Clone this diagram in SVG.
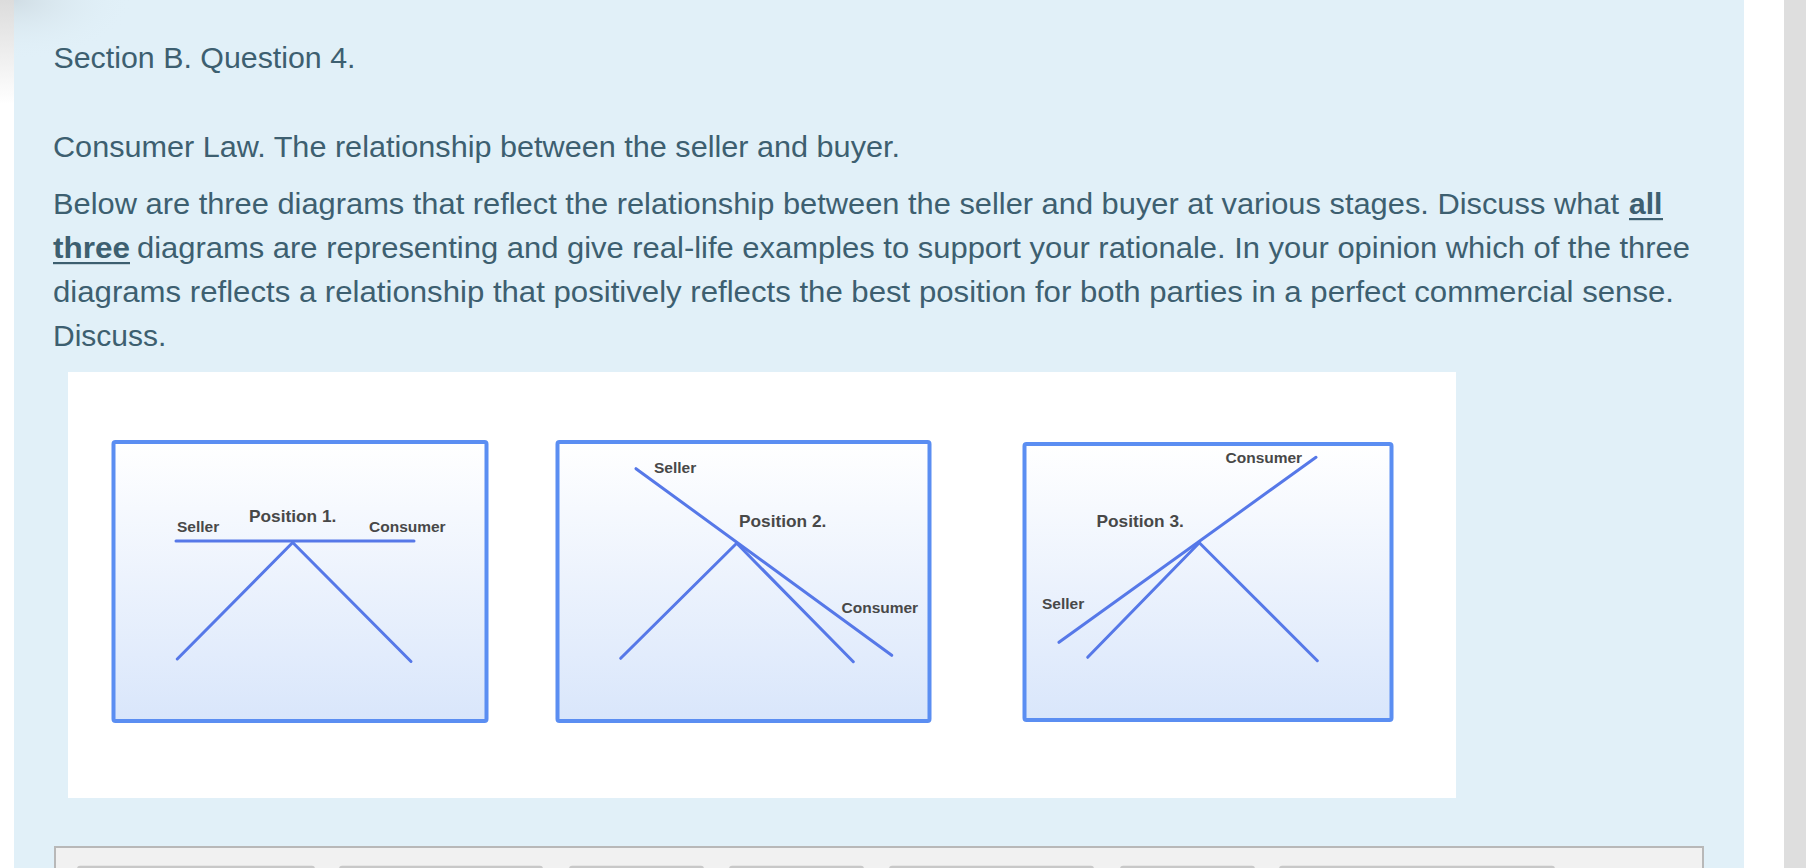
<svg xmlns="http://www.w3.org/2000/svg" width="1806" height="868" viewBox="0 0 1806 868">
  <defs>
    <linearGradient id="boxFill" x1="0" y1="0" x2="0" y2="1">
      <stop offset="0" stop-color="#ffffff"/>
      <stop offset="1" stop-color="#d9e6fb"/>
    </linearGradient>
    <linearGradient id="edgeShade" x1="0" y1="0" x2="0" y2="1">
      <stop offset="0" stop-color="#dcdcdc"/>
      <stop offset="0.12" stop-color="#ffffff"/>
      <stop offset="1" stop-color="#ffffff"/>
    </linearGradient>
    <radialGradient id="cornerShade" cx="0" cy="0" r="1">
      <stop offset="0" stop-color="#c9d5dc" stop-opacity="0.7"/>
      <stop offset="1" stop-color="#e1f0f8" stop-opacity="0"/>
    </radialGradient>
    <style>
      .q { font-family: "Liberation Sans", Arial, sans-serif; font-size: 30px; fill: #3d5f70; }
      .b { font-weight: bold; }
      .frame { fill: url(#boxFill); stroke: #5b8ef2; stroke-width: 4; }
      .ln { stroke: #5678e8; stroke-width: 3; stroke-linecap: round; fill: none; }
      .lbl { font-family: "Liberation Sans", Arial, sans-serif; font-weight: bold; font-size: 15.5px; fill: #484848; }
      .pos { font-family: "Liberation Sans", Arial, sans-serif; font-weight: bold; font-size: 17.3px; fill: #484848; }
      .tab { fill: #c8c8c8; }
    </style>
  </defs>

  <!-- page background -->
  <rect x="0" y="0" width="1806" height="868" fill="#ffffff"/>
  <rect x="0" y="0" width="14" height="868" fill="url(#edgeShade)"/>
  <rect x="14" y="0" width="1730" height="868" fill="#e1f0f8"/>
  <rect x="14" y="0" width="120" height="60" fill="url(#cornerShade)"/>
  <rect x="1784" y="0" width="22" height="868" fill="#dedede"/>

  <!-- question text -->
  <g id="question-text">
    <text class="q" x="53.5" y="68" textLength="302" lengthAdjust="spacingAndGlyphs">Section B. Question 4.</text>
    <text class="q" x="53" y="157" textLength="847" lengthAdjust="spacingAndGlyphs">Consumer Law. The relationship between the seller and buyer.</text>
    <text class="q" x="53" y="214" textLength="1566" lengthAdjust="spacingAndGlyphs">Below are three diagrams that reflect the relationship between the seller and buyer at various stages. Discuss what</text>
    <text class="q b" x="1629" y="214">all</text>
    <rect x="1629" y="218" width="34" height="2.2" fill="#3d5f70"/>
    <text class="q b" x="53" y="258" textLength="77" lengthAdjust="spacingAndGlyphs">three</text>
    <rect x="53" y="262" width="77" height="2.2" fill="#3d5f70"/>
    <text class="q" x="137" y="258" textLength="1553" lengthAdjust="spacingAndGlyphs">diagrams are representing and give real-life examples to support your rationale. In your opinion which of the three</text>
    <text class="q" x="53" y="302" textLength="1621" lengthAdjust="spacingAndGlyphs">diagrams reflects a relationship that positively reflects the best position for both parties in a perfect commercial sense.</text>
    <text class="q" x="53" y="346">Discuss.</text>
  </g>

  <!-- image area -->
  <rect x="68" y="372" width="1388" height="426" fill="#ffffff"/>

  <g id="position-1">
    <rect class="frame" x="113.5" y="442" width="373" height="279" rx="2"/>
    <text class="lbl" x="177" y="531.5">Seller</text>
    <text class="pos" x="249" y="522">Position 1.</text>
    <text class="lbl" x="369" y="531.5">Consumer</text>
  </g>

  <g id="position-2">
    <rect class="frame" x="557.5" y="442" width="372" height="279" rx="2"/>
    <text class="lbl" x="654" y="472.5">Seller</text>
    <text class="pos" x="739" y="526.5">Position 2.</text>
    <text class="lbl" x="841.5" y="613">Consumer</text>
  </g>

  <g id="position-3">
    <rect class="frame" x="1024.5" y="444" width="367" height="276" rx="2"/>
    <text class="lbl" x="1225.5" y="463">Consumer</text>
    <text class="pos" x="1096.5" y="527">Position 3.</text>
    <text class="lbl" x="1042" y="609">Seller</text>
  </g>

  <g id="connectors">
    <!-- position 1 -->
    <line class="ln" x1="176" y1="541" x2="414" y2="541"/>
    <line class="ln" x1="292.7" y1="542.5" x2="177.3" y2="659"/>
    <line class="ln" x1="292.7" y1="542.5" x2="411" y2="661.5"/>
    <!-- position 2 -->
    <line class="ln" x1="636" y1="468.7" x2="891.7" y2="655.3"/>
    <line class="ln" x1="736.7" y1="543.3" x2="620.7" y2="658.3"/>
    <line class="ln" x1="736.7" y1="543.3" x2="853.3" y2="661.7"/>
    <!-- position 3 -->
    <line class="ln" x1="1316" y1="457.3" x2="1059" y2="642.3"/>
    <line class="ln" x1="1199.3" y1="542.7" x2="1087.7" y2="657.3"/>
    <line class="ln" x1="1199.3" y1="542.7" x2="1317.3" y2="660.7"/>
  </g>

  <!-- bottom answer box (cut off) -->
  <g id="answer-box">
    <rect x="55" y="847" width="1648" height="30" fill="#f1f1f1" stroke="#b8b8b8" stroke-width="2"/>
    <rect class="tab" x="77" y="865.7" width="238" height="6" rx="3"/>
    <rect class="tab" x="339" y="865.7" width="204" height="6" rx="3"/>
    <rect class="tab" x="569" y="865.7" width="135" height="6" rx="3"/>
    <rect class="tab" x="729" y="865.7" width="135" height="6" rx="3"/>
    <rect class="tab" x="889" y="865.7" width="205" height="6" rx="3"/>
    <rect class="tab" x="1120" y="865.7" width="135" height="6" rx="3"/>
    <rect class="tab" x="1279" y="865.7" width="276" height="6" rx="3"/>
  </g>
</svg>
